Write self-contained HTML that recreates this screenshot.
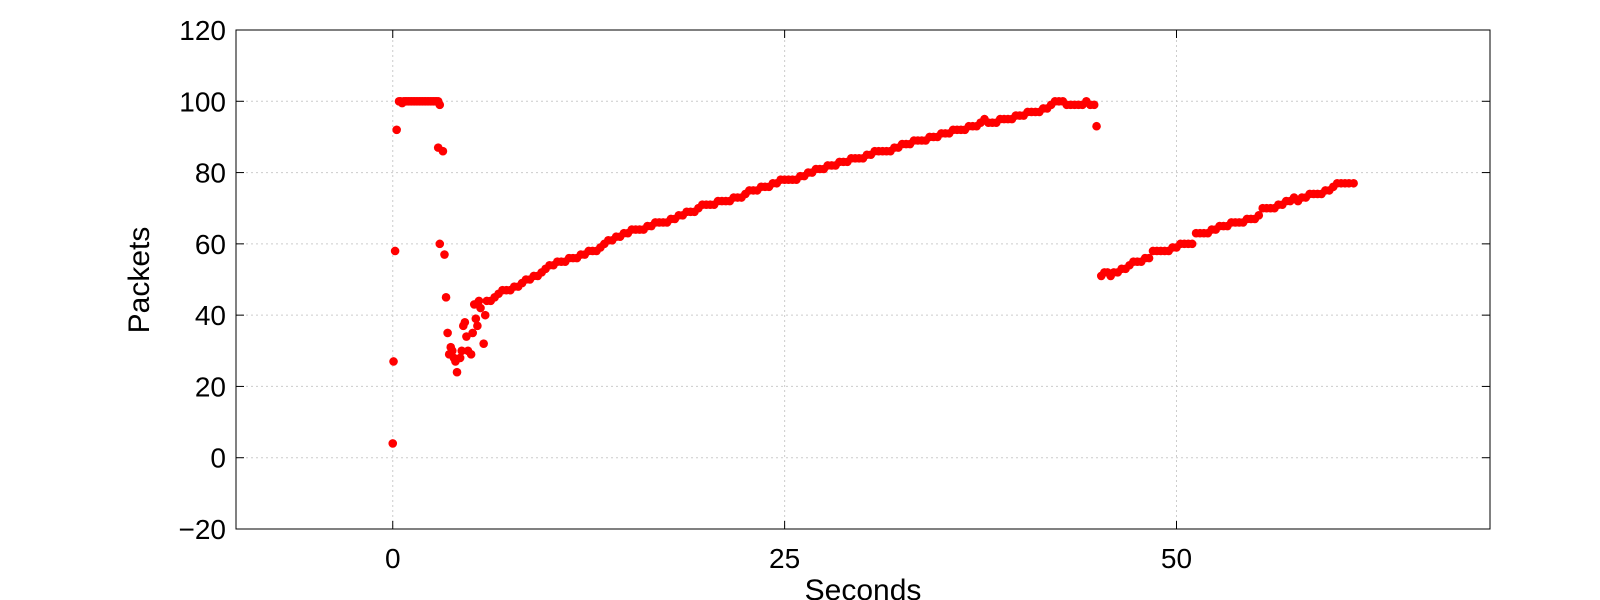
<!DOCTYPE html>
<html><head><meta charset="utf-8"><style>
html,body{margin:0;padding:0;background:#fff;}
svg{display:block;font-family:"Liberation Sans",sans-serif;}
</style></head><body>
<svg id="chart" width="1600" height="600"></svg>
<script>
const xTicks=[0,25,50];
const yTicks=[-20,0,20,40,60,80,100,120];
const times=[0,0.05,0.15,0.25,0.4,0.5,0.6,0.7,0.8,0.9,1,1.1,1.2,1.3,1.4,1.5,1.6,1.7,1.8,1.9,2,2.1,2.2,2.3,2.4,2.5,2.6,2.7,2.8,2.9,3.0,
2.9,3.0,3.2,3.3,3.4,3.5,3.6,3.7,3.8,3.9,4.0,4.1,4.3,4.4,4.5,4.6,4.7,4.8,5.0,5.1,5.2,5.3,5.4,5.5,5.6,5.8,5.9,
6,6.25,6.5,6.75,7,7.25,7.5,7.75,8,8.25,8.5,8.75,9,9.25,9.5,9.75,10,10.25,10.5,10.75,11,11.25,11.5,11.75,12,12.25,12.5,12.75,13,13.25,13.5,13.75,14,14.25,14.5,14.75,15,15.25,15.5,15.75,16,16.25,16.5,16.75,17,17.25,17.5,17.75,18,18.25,18.5,18.75,19,19.25,19.5,19.75,20,20.25,20.5,20.75,21,21.25,21.5,21.75,22,22.25,22.5,22.75,23,23.25,23.5,23.75,24,24.25,24.5,24.75,25,25.25,25.5,25.75,26,26.25,26.5,26.75,27,27.25,27.5,27.75,28,28.25,28.5,28.75,29,29.25,29.5,29.75,30,30.25,30.5,30.75,31,31.25,31.5,31.75,32,32.25,32.5,32.75,33,33.25,33.5,33.75,34,34.25,34.5,34.75,35,35.25,35.5,35.75,36,36.25,36.5,36.75,37,37.25,37.5,37.75,38,38.25,38.5,38.75,39,39.25,39.5,39.75,40,40.25,40.5,40.75,41,41.25,41.5,41.75,42,42.25,42.5,42.75,43,43.25,43.5,43.75,44,44.25,44.5,44.75,44.9,
45.2,45.4,45.6,45.8,46,46.25,46.5,46.75,47,47.25,47.5,47.75,48,48.25,48.5,48.75,49,49.25,49.5,49.75,50,50.25,50.5,50.75,51,51.25,51.5,51.75,52,52.25,52.5,52.75,53,53.25,53.5,53.75,54,54.25,54.5,54.75,55,55.25,55.5,55.75,56,56.25,56.5,56.75,57,57.25,57.5,57.75,58,58.25,58.5,58.75,59,59.25,59.5,59.75,60,60.25,60.5,60.75,61,61.3];
const packets=[4,27,58,92,100,100,99.5,100,100,100,100,100,100,100,100,100,100,100,100,100,100,100,100,100,100,100,100,100,100,100,99,
87,60,86,57,45,35,29,31,30,28,27,24,28,30,37,38,34,30,29,35,43,39,37,44,42,32,40,
44,44,45,46,47,47,47,48,48,49,50,50,51,51,52,53,54,54,55,55,55,56,56,56,57,57,58,58,58,59,60,61,61,62,62,63,63,64,64,64,64,65,65,66,66,66,66,67,67,68,68,69,69,69,70,71,71,71,71,72,72,72,72,73,73,73,74,75,75,75,76,76,76,77,77,78,78,78,78,78,79,79,80,80,81,81,81,82,82,82,83,83,83,84,84,84,84,85,85,86,86,86,86,86,87,87,88,88,88,89,89,89,89,90,90,90,91,91,91,92,92,92,92,93,93,93,94,95,94,94,94,95,95,95,95,96,96,96,97,97,97,97,98,98,99,100,100,100,99,99,99,99,99,100,99,99,93,
51,52,52,51,52,52,53,53,54,55,55,55,56,56,58,58,58,58,58,59,59,60,60,60,60,63,63,63,63,64,64,65,65,65,66,66,66,66,67,67,67,68,70,70,70,70,71,71,72,72,73,72,73,73,74,74,74,74,75,75,76,77,77,77,77,77];
const L=236,R=1490,T=30,B=529,xmin=-10,xmax=70,ymin=-20,ymax=120;
const sx=v=>L+(v-xmin)/(xmax-xmin)*(R-L);
const sy=v=>B-(v-ymin)/(ymax-ymin)*(B-T);
const svg=document.getElementById('chart');const NS='http://www.w3.org/2000/svg';
function mk(tag,at){const e=document.createElementNS(NS,tag);for(const k in at)e.setAttribute(k,at[k]);svg.appendChild(e);return e;}
xTicks.forEach(v=>{
 const g=mk('line',{x1:sx(v),x2:sx(v),y1:T,y2:B,stroke:'#ccc','stroke-dasharray':'2,3'});
 
 mk('line',{x1:sx(v),x2:sx(v),y1:B,y2:B-8,stroke:'#000'});mk('line',{x1:sx(v),x2:sx(v),y1:T,y2:T+8,stroke:'#000'});
 const t=mk('text',{x:sx(v),y:568,'font-size':28,'text-anchor':'middle'});t.textContent=v;
 
});
yTicks.forEach(v=>{
 const g=mk('line',{x1:L,x2:R,y1:sy(v),y2:sy(v),stroke:'#ccc','stroke-dasharray':'2,3'});
 
 mk('line',{x1:L,x2:L+8,y1:sy(v),y2:sy(v),stroke:'#000'});mk('line',{x1:R,x2:R-8,y1:sy(v),y2:sy(v),stroke:'#000'});
 const t=mk('text',{x:226,y:sy(v)+10,'font-size':28,'text-anchor':'end'});t.textContent=(v<0?'\u2212'+(-v):v);
 
});
times.forEach((t,i)=>{
 const c=mk('circle',{cx:sx(t),cy:sy(packets[i]),r:4.3,fill:'#f00'});
 
 
});
const fr=mk('rect',{x:L,y:T,width:R-L,height:B-T,fill:'none',stroke:'#000','stroke-width':1});

const yl=mk('text',{x:0,y:0,'font-size':30,'text-anchor':'middle',transform:'translate(149,280) rotate(-90)'});yl.textContent='Packets';

const xl=mk('text',{x:863,y:600,'font-size':30,'text-anchor':'middle'});xl.textContent='Seconds';

</script>
</body></html>
